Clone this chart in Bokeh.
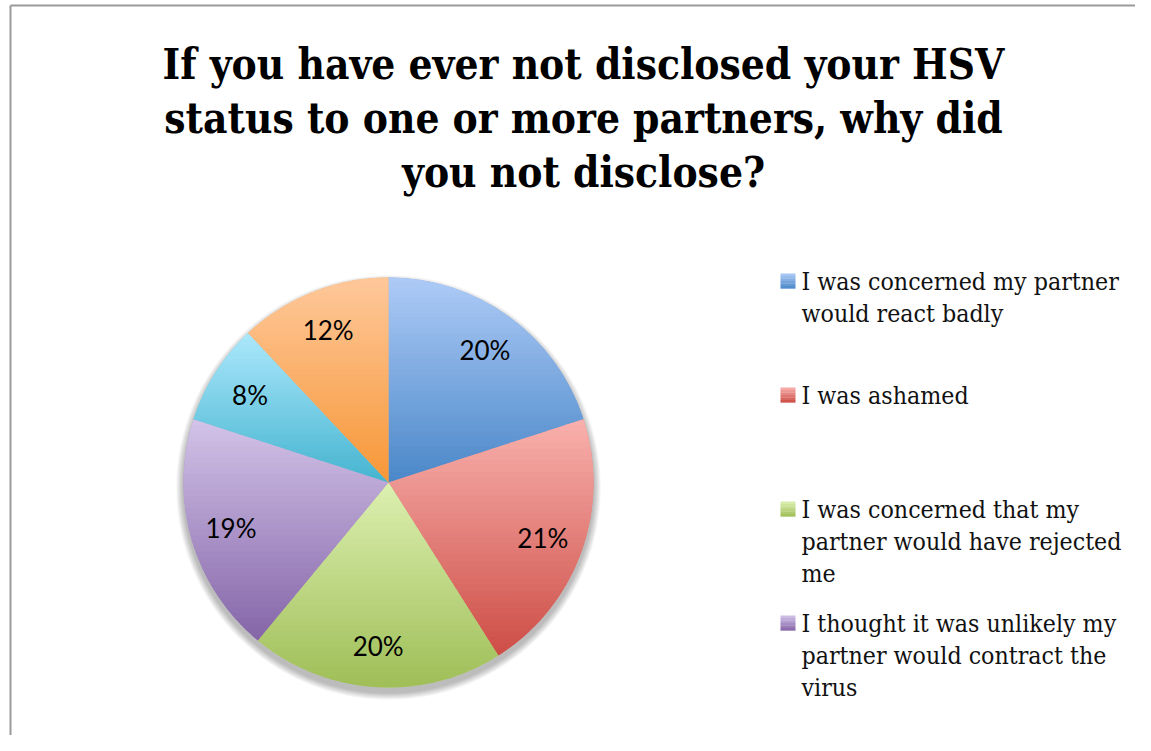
import numpy as np
from bokeh.plotting import figure
from bokeh.models import Range1d
from bokeh.core.properties import value
from bokeh.embed import file_html
from bokeh.resources import INLINE

# ---------------- data ----------------
title_lines = ["If you have ever not disclosed your HSV",
               "status to one or more partners, why did",
               "you not disclose?"]
categories = ["I was concerned my partner would react badly",
              "I was ashamed",
              "I was concerned that my partner would have rejected me",
              "I thought it was unlikely my partner would contract the virus",
              "(reason 5, legend entry cut off)",
              "(reason 6, legend entry cut off)"]
legend_lines = [["I was concerned my partner", "would react badly"],
                ["I was ashamed"],
                ["I was concerned that my", "partner would have rejected", "me"],
                ["I thought it was unlikely my", "partner would contract the", "virus"]]
shares = [20, 21, 20, 19, 8, 12]
pct_labels = ["20%", "21%", "20%", "19%", "8%", "12%"]
top_colors = ["#aecbf7", "#f9b1ad", "#dcf0b1", "#d3c3e8", "#ace8fc", "#fec89b"]
bottom_colors = ["#4a87c8", "#cd4d46", "#9fbe57", "#8465a8", "#45b4cf", "#f79737"]

# ---------------- layout ----------------
W, H = 1135, 735
def Y(ref_y):  # screenshot pixel y -> data y
    return H - ref_y
def X(ref_x):
    return ref_x

cx, cy, R = X(388), Y(482), 205
label_r = 164
TITLE_FS, LEG_FS = 42, 24.7
BASE_FIX = 0.39  # empirical shift so glyph baselines land where measured

p = figure(width=W, height=H, x_range=Range1d(0, W), y_range=Range1d(0, H),
           output_backend="svg", toolbar_location=None, min_border=0)
p.axis.visible = False
p.grid.visible = False
p.outline_line_color = None
p.background_fill_color = "white"

# frame (left & top edges visible in the reference)
p.segment(x0=[X(10), X(10)], y0=[0, Y(5)], x1=[X(10), W], y1=[Y(5), Y(5)],
          line_color="#9a9a9a", line_width=2)

def hex2rgb(h):
    h = h.lstrip("#")
    return np.array([int(h[i:i + 2], 16) for i in (0, 2, 4)], dtype=float)

def mix(c0, c1, t):
    c = hex2rgb(c0) * (1 - t) + hex2rgb(c1) * t
    return "#%02x%02x%02x" % tuple(int(round(v)) for v in c)

def clip_half(poly, yv, keep_below):
    out = []
    n = len(poly)
    for i in range(n):
        a = poly[i]; b = poly[(i + 1) % n]
        ina = a[1] <= yv if keep_below else a[1] >= yv
        inb = b[1] <= yv if keep_below else b[1] >= yv
        if ina:
            out.append(a)
        if ina != inb:
            t = (yv - a[1]) / (b[1] - a[1])
            out.append((a[0] + t * (b[0] - a[0]), yv))
    return out

# shadow under the pie
for k in range(8):
    p.circle(x=[cx], y=[cy - 5], radius=R + 1 + k * 0.9, fill_color="#000000",
             fill_alpha=0.035, line_color=None)

# pie slices (solid base wedges)
fr = np.array(shares, dtype=float) / sum(shares)
cum = np.concatenate([[0], np.cumsum(fr)])
starts = np.pi / 2 - cum[:-1] * 2 * np.pi
ends = np.pi / 2 - cum[1:] * 2 * np.pi
mids = [mix(a, b, 0.5) for a, b in zip(top_colors, bottom_colors)]
p.wedge(x=cx, y=cy, radius=R, start_angle=starts, end_angle=ends,
        direction="clock", fill_color=mids, line_color=None)

# vertical gradient on each slice
NB = 40
for i in range(len(shares)):
    angs = np.linspace(starts[i], ends[i], 80)
    poly = [(cx, cy)] + [(cx + R * np.cos(a), cy + R * np.sin(a)) for a in angs]
    ys = [q[1] for q in poly]
    ymin, ymax = min(ys), max(ys)
    xs_list, ys_list, cols = [], [], []
    for b in range(NB):
        y_hi = ymax - (ymax - ymin) * b / NB
        y_lo = ymax - (ymax - ymin) * (b + 1) / NB - 0.3
        part = clip_half(poly, y_hi + 0.3, True)
        if len(part) < 3:
            continue
        part = clip_half(part, y_lo, False)
        if len(part) < 3:
            continue
        xs_list.append([q[0] for q in part])
        ys_list.append([q[1] for q in part])
        cols.append(mix(top_colors[i], bottom_colors[i], (b + 0.5) / NB))
    p.patches(xs_list, ys_list, fill_color=cols, line_color=None)

# percentage labels
mid_ang = (starts + ends) / 2
p.text(x=cx + label_r * np.cos(mid_ang), y=cy + label_r * np.sin(mid_ang), text=pct_labels,
       text_font=value("Lato"), text_font_size="26px", text_color="#000000",
       text_align="center", text_baseline="middle")

# title
for j, line in enumerate(title_lines):
    p.text(x=[X(583)], y=[Y(80 + j * 54 - BASE_FIX * TITLE_FS)], text=[line],
           text_font=value("DejaVu Serif Condensed"),
           text_font_style="bold", text_font_size=f"{TITLE_FS}px", text_color="#000000",
           text_align="center", text_baseline="alphabetic")

# legend (first four entries visible)
entry_baselines = [291, 405, 519, 633]
line_gap = 32
for k, lines in enumerate(legend_lines):
    b0 = entry_baselines[k]
    sq_top, sq_bot = Y(b0 - 18), Y(b0 - 3)
    nb = 6
    for s in range(nb):
        y1 = sq_top - (sq_top - sq_bot) * s / nb
        y0 = sq_top - (sq_top - sq_bot) * (s + 1) / nb
        p.quad(left=[X(780)], right=[X(795)], top=[y1], bottom=[y0 - 0.2],
               fill_color=mix(top_colors[k], bottom_colors[k], (s + 0.5) / nb), line_color=None)
    for j, ln in enumerate(lines):
        p.text(x=[X(801)], y=[Y(b0 + j * line_gap - BASE_FIX * LEG_FS)], text=[ln],
               text_font=value("DejaVu Serif Condensed"), text_font_size=f"{LEG_FS}px",
               text_color="#111111", text_align="left", text_baseline="alphabetic")

open("out.html", "w").write(file_html(p, INLINE))
